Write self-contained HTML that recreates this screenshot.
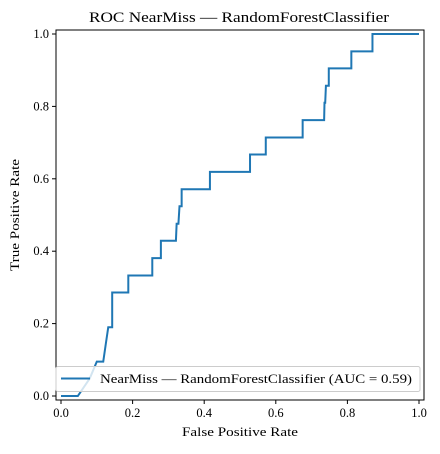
<!DOCTYPE html>
<html><head><meta charset="utf-8"><style>
body{margin:0;background:#fff;}
svg text{font-family:"Liberation Serif","DejaVu Serif",serif;fill:#000;}
</style></head><body>
<svg id="chart" width="440" height="449" xmlns="http://www.w3.org/2000/svg">
<text x="239" y="22" font-size="15" text-anchor="middle" textLength="300" lengthAdjust="spacingAndGlyphs">ROC NearMiss — RandomForestClassifier</text>
<g id="ticks"></g>
<polyline id="curve" fill="none" stroke="#1f77b4" stroke-width="2"/>
<rect x="56" y="30" width="368" height="370" fill="none" stroke="#000" stroke-width="1"/>
<text x="240" y="436" font-size="13" text-anchor="middle" textLength="116" lengthAdjust="spacingAndGlyphs">False Positive Rate</text>
<text x="19" y="215" font-size="13" text-anchor="middle" textLength="112" lengthAdjust="spacingAndGlyphs" transform="rotate(-90 19 215)">True Positive Rate</text>
<g>
<rect x="56" y="366.5" width="364" height="25" rx="2" fill="#fff" fill-opacity="0.8" stroke="#ccc"/>
<line x1="61" y1="378.5" x2="90" y2="378.5" stroke="#1f77b4" stroke-width="2"/>
<text x="100" y="383" font-size="13" textLength="312" lengthAdjust="spacingAndGlyphs">NearMiss — RandomForestClassifier (AUC = 0.59)</text>
</g>
</svg>
<script>
const fpr=[0,0.047,0.08,0.10,0.118,0.125,0.132,0.143,0.143,0.188,0.188,0.255,0.255,0.279,0.279,0.321,0.323,0.328,0.331,0.337,0.337,0.416,0.416,0.528,0.528,0.572,0.572,0.675,0.675,0.735,0.736,0.738,0.740,0.748,0.748,0.811,0.811,0.87,0.87,1.0];
const tpr=[0,0,0.048,0.095,0.095,0.143,0.19,0.19,0.286,0.286,0.333,0.333,0.381,0.381,0.429,0.429,0.476,0.476,0.524,0.524,0.571,0.571,0.619,0.619,0.667,0.667,0.714,0.714,0.762,0.762,0.81,0.81,0.857,0.857,0.905,0.905,0.952,0.952,1,1];
const tickVals=[0,0.2,0.4,0.6,0.8,1.0];
const tickLabels=["0.0","0.2","0.4","0.6","0.8","1.0"];
const sx=v=>61+v*358, sy=v=>396-v*362;
const c=document.getElementById('curve');
c.setAttribute('points',fpr.map((f,i)=>sx(f)+','+sy(tpr[i])).join(' '));
const g=document.getElementById('ticks'),NS='http://www.w3.org/2000/svg';
tickVals.forEach((v,i)=>{
 let l=document.createElementNS(NS,'line');l.setAttribute('x1',sx(v));l.setAttribute('x2',sx(v));l.setAttribute('y1',400);l.setAttribute('y2',404);l.setAttribute('stroke','#000');
 
 g.appendChild(l);
 let t=document.createElementNS(NS,'text');t.setAttribute('x',sx(v));t.setAttribute('y',417);t.setAttribute('font-size','12.5');t.setAttribute('text-anchor','middle');t.textContent=tickLabels[i];
 
 g.appendChild(t);
 let l2=document.createElementNS(NS,'line');l2.setAttribute('x1',52);l2.setAttribute('x2',56);l2.setAttribute('y1',sy(v));l2.setAttribute('y2',sy(v));l2.setAttribute('stroke','#000');
 
 g.appendChild(l2);
 let t2=document.createElementNS(NS,'text');t2.setAttribute('x',49);t2.setAttribute('y',sy(v)+4);t2.setAttribute('font-size','12.5');t2.setAttribute('text-anchor','end');t2.textContent=tickLabels[i];
 
 g.appendChild(t2);
});
</script>
</body></html>
